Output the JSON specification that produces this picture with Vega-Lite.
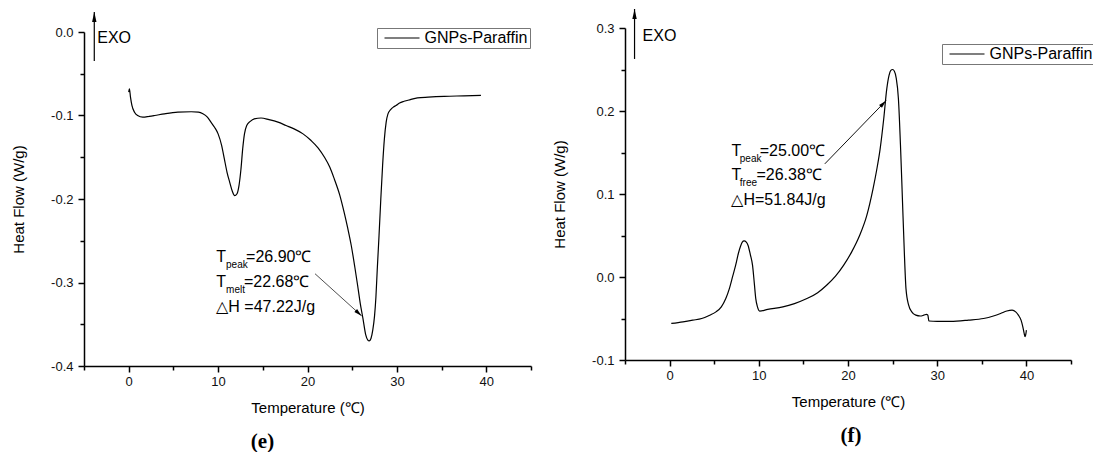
{
  "$schema": "https://vega.github.io/schema/vega-lite/v6.json",
  "background": "white",
  "padding": {"left": 11, "top": 8, "right": 0, "bottom": 0},
  "config": {
    "view": {"stroke": null},
    "font": "Liberation Sans",
    "axis": {
      "grid": false,
      "domainColor": "black",
      "domainWidth": 1.5,
      "tickColor": "black",
      "tickWidth": 1.5,
      "labelFont": "Liberation Sans",
      "labelFontSize": 13,
      "labelColor": "#111111",
      "titleFont": "Liberation Sans",
      "titleFontSize": 15,
      "titleFontWeight": "normal",
      "titleColor": "black",
      "labelOverlap": false,
      "labelFlush": false
    }
  },
  "datasets": {
    "melting": [
      {"T": 0.0, "HF": -0.072}, {"T": 0.08, "HF": -0.068}, {"T": 0.2, "HF": -0.078}, {"T": 0.36, "HF": -0.088},
      {"T": 0.65, "HF": -0.096}, {"T": 1.0, "HF": -0.1}, {"T": 1.58, "HF": -0.102}, {"T": 2.3, "HF": -0.101},
      {"T": 2.9, "HF": -0.1}, {"T": 4.0, "HF": -0.098}, {"T": 5.5, "HF": -0.096}, {"T": 7.0, "HF": -0.0955},
      {"T": 7.8, "HF": -0.096}, {"T": 8.3, "HF": -0.098}, {"T": 8.8, "HF": -0.102}, {"T": 9.2, "HF": -0.108},
      {"T": 9.6, "HF": -0.114}, {"T": 10.0, "HF": -0.122}, {"T": 10.4, "HF": -0.136}, {"T": 10.7, "HF": -0.152},
      {"T": 11.0, "HF": -0.168}, {"T": 11.3, "HF": -0.18}, {"T": 11.6, "HF": -0.191}, {"T": 11.85, "HF": -0.196},
      {"T": 12.1, "HF": -0.194}, {"T": 12.35, "HF": -0.183}, {"T": 12.55, "HF": -0.165}, {"T": 12.75, "HF": -0.14},
      {"T": 12.95, "HF": -0.122}, {"T": 13.2, "HF": -0.112}, {"T": 13.6, "HF": -0.107}, {"T": 14.05, "HF": -0.104},
      {"T": 14.8, "HF": -0.103}, {"T": 15.7, "HF": -0.105}, {"T": 16.7, "HF": -0.108}, {"T": 17.6, "HF": -0.112},
      {"T": 18.5, "HF": -0.116}, {"T": 19.5, "HF": -0.122}, {"T": 20.4, "HF": -0.13}, {"T": 21.2, "HF": -0.139},
      {"T": 21.9, "HF": -0.15}, {"T": 22.5, "HF": -0.162}, {"T": 23.0, "HF": -0.176}, {"T": 23.6, "HF": -0.195},
      {"T": 24.1, "HF": -0.216}, {"T": 24.5, "HF": -0.235}, {"T": 24.9, "HF": -0.256}, {"T": 25.3, "HF": -0.282},
      {"T": 25.6, "HF": -0.303}, {"T": 25.9, "HF": -0.325}, {"T": 26.2, "HF": -0.343}, {"T": 26.5, "HF": -0.362},
      {"T": 26.75, "HF": -0.369}, {"T": 26.9, "HF": -0.37}, {"T": 27.1, "HF": -0.367}, {"T": 27.3, "HF": -0.357},
      {"T": 27.5, "HF": -0.34}, {"T": 27.65, "HF": -0.318}, {"T": 27.8, "HF": -0.285}, {"T": 28.0, "HF": -0.244},
      {"T": 28.2, "HF": -0.2}, {"T": 28.4, "HF": -0.16}, {"T": 28.6, "HF": -0.128}, {"T": 28.8, "HF": -0.108},
      {"T": 29.0, "HF": -0.098}, {"T": 29.3, "HF": -0.093}, {"T": 29.6, "HF": -0.09}, {"T": 29.9, "HF": -0.088},
      {"T": 30.3, "HF": -0.085}, {"T": 30.8, "HF": -0.083}, {"T": 31.5, "HF": -0.081}, {"T": 32.3, "HF": -0.079},
      {"T": 33.5, "HF": -0.078}, {"T": 35.3, "HF": -0.077}, {"T": 37.5, "HF": -0.0765}, {"T": 39.4, "HF": -0.076}
    ],
    "meltingNotes": [
      {"T": 9.78, "HF": -0.2695, "text": "T", "role": "main"},
      {"T": 10.89, "HF": -0.2695, "text": "peak", "role": "sub"},
      {"T": 13.13, "HF": -0.2695, "text": "=26.90℃", "role": "main"},
      {"T": 9.78, "HF": -0.2994, "text": "T", "role": "main"},
      {"T": 10.89, "HF": -0.2994, "text": "melt", "role": "sub"},
      {"T": 12.9, "HF": -0.2994, "text": "=22.68℃", "role": "main"},
      {"T": 9.8, "HF": -0.3293, "text": "△H =47.22J/g", "role": "main"},
      {"T": -3.52, "HF": -0.0072, "text": "EXO", "role": "main"}
    ],
    "meltingArrows": [
      {"kind": "exo", "T": -3.85, "HF": 0.0239, "T2": -3.85, "HF2": -0.0347},
      {"kind": "pointer", "T": 26.06, "HF": -0.34, "T2": 20.84, "HF2": -0.2895}
    ],
    "freezing": [
      {"T": 0.19, "HF": -0.056}, {"T": 1.5, "HF": -0.054}, {"T": 2.6, "HF": -0.052}, {"T": 3.6, "HF": -0.05},
      {"T": 4.5, "HF": -0.046}, {"T": 5.2, "HF": -0.042}, {"T": 5.8, "HF": -0.036}, {"T": 6.3, "HF": -0.026},
      {"T": 6.7, "HF": -0.014}, {"T": 7.1, "HF": 0.002}, {"T": 7.4, "HF": 0.014}, {"T": 7.7, "HF": 0.028},
      {"T": 7.95, "HF": 0.037}, {"T": 8.15, "HF": 0.042}, {"T": 8.35, "HF": 0.0435}, {"T": 8.6, "HF": 0.042},
      {"T": 8.8, "HF": 0.038}, {"T": 9.05, "HF": 0.027}, {"T": 9.3, "HF": 0.014}, {"T": 9.5, "HF": -0.008},
      {"T": 9.66, "HF": -0.026}, {"T": 9.85, "HF": -0.036}, {"T": 10.1, "HF": -0.041}, {"T": 11.0, "HF": -0.039},
      {"T": 12.7, "HF": -0.036}, {"T": 14.0, "HF": -0.032}, {"T": 15.4, "HF": -0.026}, {"T": 16.6, "HF": -0.019},
      {"T": 17.6, "HF": -0.01}, {"T": 18.6, "HF": 0.001}, {"T": 19.5, "HF": 0.014}, {"T": 20.4, "HF": 0.03},
      {"T": 21.3, "HF": 0.05}, {"T": 22.1, "HF": 0.074}, {"T": 22.8, "HF": 0.106}, {"T": 23.2, "HF": 0.128},
      {"T": 23.6, "HF": 0.154}, {"T": 24.0, "HF": 0.19}, {"T": 24.35, "HF": 0.227}, {"T": 24.6, "HF": 0.243},
      {"T": 24.8, "HF": 0.249}, {"T": 25.0, "HF": 0.25}, {"T": 25.2, "HF": 0.248}, {"T": 25.4, "HF": 0.24},
      {"T": 25.65, "HF": 0.215}, {"T": 25.9, "HF": 0.154}, {"T": 26.1, "HF": 0.094}, {"T": 26.3, "HF": 0.034},
      {"T": 26.5, "HF": -0.014}, {"T": 26.8, "HF": -0.034}, {"T": 27.15, "HF": -0.042}, {"T": 27.6, "HF": -0.046},
      {"T": 28.1, "HF": -0.047}, {"T": 28.5, "HF": -0.046}, {"T": 28.8, "HF": -0.045}, {"T": 28.95, "HF": -0.046},
      {"T": 29.07, "HF": -0.053}, {"T": 30.0, "HF": -0.0535}, {"T": 31.5, "HF": -0.0535}, {"T": 33.5, "HF": -0.052},
      {"T": 35.2, "HF": -0.05}, {"T": 36.3, "HF": -0.047}, {"T": 37.1, "HF": -0.044}, {"T": 37.8, "HF": -0.041},
      {"T": 38.4, "HF": -0.04}, {"T": 38.8, "HF": -0.042}, {"T": 39.1, "HF": -0.046}, {"T": 39.4, "HF": -0.052},
      {"T": 39.6, "HF": -0.06}, {"T": 39.75, "HF": -0.068}, {"T": 39.85, "HF": -0.072}, {"T": 39.95, "HF": -0.068},
      {"T": 40.0, "HF": -0.064}
    ],
    "freezingNotes": [
      {"T": 6.93, "HF": 0.1523, "text": "T", "role": "main"},
      {"T": 7.87, "HF": 0.1523, "text": "peak", "role": "sub"},
      {"T": 10.11, "HF": 0.1523, "text": "=25.00℃", "role": "main"},
      {"T": 6.93, "HF": 0.1223, "text": "T", "role": "main"},
      {"T": 7.87, "HF": 0.1223, "text": "free", "role": "sub"},
      {"T": 9.74, "HF": 0.1223, "text": "=26.38℃", "role": "main"},
      {"T": 6.93, "HF": 0.0922, "text": "△H=51.84J/g", "role": "main"},
      {"T": -3.03, "HF": 0.2904, "text": "EXO", "role": "main"}
    ],
    "freezingArrows": [
      {"kind": "exo", "T": -3.93, "HF": 0.3229, "T2": -3.93, "HF2": 0.2627},
      {"kind": "pointer", "T": 24.27, "HF": 0.2125, "T2": 17.4, "HF2": 0.1363}
    ]
  },
  "bounds": "flush",
  "spacing": 94,
  "resolve": {"scale": {"color": "independent"}, "legend": {"color": "independent"}},
  "hconcat": [
    {
      "width": 447,
      "height": 338,
      "title": {"text": "(e)", "orient": "bottom", "anchor": "middle", "dx": -45, "offset": 16, "font": "Liberation Serif", "fontSize": 21, "fontWeight": "bold", "color": "black"},
      "encoding": {
        "x": {
          "field": "T", "type": "quantitative", "title": "Temperature (℃)",
          "scale": {"domain": [-5, 45], "nice": false, "zero": false},
          "axis": {
            "values": [-5, 0, 5, 10, 15, 20, 25, 30, 35, 40, 45],
            "labelExpr": "datum.value % 10 === 0 ? datum.label : ''",
            "tickSize": {"condition": {"test": "datum.value % 10 !== 0", "value": 4}, "value": 6},
            "labelPadding": 3,
            "titlePadding": 12
          }
        },
        "y": {
          "field": "HF", "type": "quantitative", "title": "Heat Flow (W/g)",
          "scale": {"domain": [-0.4, 0], "nice": false, "zero": false, "range": [338, 4]},
          "axis": {
            "values": [-0.4, -0.35, -0.3, -0.25, -0.2, -0.15, -0.1, -0.05, 0],
            "labelExpr": "abs(round(datum.value * 100)) % 10 === 0 ? replace(format(datum.value, '.1f'), '\u2212', '-') : ''",
            "tickSize": {"condition": {"test": "abs(round(datum.value * 100)) % 10 !== 0", "value": 4}, "value": 6},
            "labelPadding": 5,
            "titlePadding": 24
          }
        }
      },
      "layer": [
        {
          "data": {"name": "melting"},
          "mark": {"type": "line", "strokeWidth": 1.2, "interpolate": "monotone"},
          "encoding": {
            "color": {
              "datum": "GNPs-Paraffin",
              "scale": {"range": ["black"]},
              "legend": {
                "orient": "none", "legendX": 293, "legendY": 0, "title": null,
                "symbolType": "M-3.5,0H3.5", "symbolSize": 100, "symbolStrokeWidth": 1.2,
                "symbolOffset": 15, "labelOffset": 14.5,
                "labelFont": "Liberation Sans", "labelFontSize": 16, "labelColor": "black",
                "padding": 2, "strokeColor": "#777777"
              }
            }
          }
        },
        {
          "data": {"name": "meltingArrows"},
          "transform": [{"filter": "datum.kind === 'exo'"}],
          "layer": [
            {"mark": {"type": "rule", "strokeWidth": 1.2, "color": "black"}, "encoding": {"x2": {"field": "T2"}, "y2": {"field": "HF2"}}},
            {"mark": {"type": "point", "shape": "M0,0L0.22,1L-0.22,1Z", "filled": true, "color": "black", "opacity": 1, "size": 400, "angle": 0}}
          ]
        },
        {
          "data": {"name": "meltingArrows"},
          "transform": [{"filter": "datum.kind === 'pointer'"}],
          "layer": [
            {"mark": {"type": "rule", "strokeWidth": 0.8, "color": "#222222"}, "encoding": {"x2": {"field": "T2"}, "y2": {"field": "HF2"}}},
            {"mark": {"type": "point", "shape": "M0,0L0.25,1L-0.25,1Z", "filled": true, "color": "black", "opacity": 1, "size": 256, "angle": 132}}
          ]
        },
        {
          "data": {"name": "meltingNotes"},
          "transform": [{"filter": "datum.role === 'main'"}],
          "mark": {"type": "text", "align": "left", "baseline": "middle", "fontSize": 16, "font": "Liberation Sans", "color": "black"},
          "encoding": {"text": {"field": "text"}}
        },
        {
          "data": {"name": "meltingNotes"},
          "transform": [{"filter": "datum.role === 'sub'"}],
          "mark": {"type": "text", "align": "left", "baseline": "middle", "fontSize": 10, "dy": 8, "font": "Liberation Sans", "color": "black"},
          "encoding": {"text": {"field": "text"}}
        }
      ]
    },
    {
      "width": 446,
      "height": 332,
      "title": {"text": "(f)", "orient": "bottom", "anchor": "middle", "dx": 3, "offset": 16, "font": "Liberation Serif", "fontSize": 21, "fontWeight": "bold", "color": "black"},
      "encoding": {
        "x": {
          "field": "T", "type": "quantitative", "title": "Temperature (℃)",
          "scale": {"domain": [-5, 45], "nice": false, "zero": false},
          "axis": {
            "values": [-5, 0, 5, 10, 15, 20, 25, 30, 35, 40, 45],
            "labelExpr": "datum.value % 10 === 0 ? datum.label : ''",
            "tickSize": {"condition": {"test": "datum.value % 10 !== 0", "value": 4}, "value": 6},
            "labelPadding": 3,
            "titlePadding": 12
          }
        },
        "y": {
          "field": "HF", "type": "quantitative", "title": "Heat Flow (W/g)",
          "scale": {"domain": [-0.1, 0.3], "nice": false, "zero": false},
          "axis": {
            "values": [-0.1, -0.05, 0, 0.05, 0.1, 0.15, 0.2, 0.25, 0.3],
            "labelExpr": "abs(round(datum.value * 100)) % 10 === 0 ? replace(format(datum.value, '.1f'), '\u2212', '-') : ''",
            "tickSize": {"condition": {"test": "abs(round(datum.value * 100)) % 10 !== 0", "value": 4}, "value": 6},
            "labelPadding": 5,
            "titlePadding": 24
          }
        }
      },
      "layer": [
        {
          "data": {"name": "freezing"},
          "mark": {"type": "line", "strokeWidth": 1.2, "interpolate": "monotone"},
          "encoding": {
            "color": {
              "datum": "GNPs-Paraffin",
              "scale": {"range": ["black"]},
              "legend": {
                "orient": "none", "legendX": 317, "legendY": 16, "title": null,
                "symbolType": "M-3.5,0H3.5", "symbolSize": 100, "symbolStrokeWidth": 1.2,
                "symbolOffset": 15, "labelOffset": 14.5,
                "labelFont": "Liberation Sans", "labelFontSize": 16, "labelColor": "black",
                "padding": 2, "strokeColor": "#777777"
              }
            }
          }
        },
        {
          "data": {"name": "freezingArrows"},
          "transform": [{"filter": "datum.kind === 'exo'"}],
          "layer": [
            {"mark": {"type": "rule", "strokeWidth": 1.2, "color": "black"}, "encoding": {"x2": {"field": "T2"}, "y2": {"field": "HF2"}}},
            {"mark": {"type": "point", "shape": "M0,0L0.22,1L-0.22,1Z", "filled": true, "color": "black", "opacity": 1, "size": 400, "angle": 0}}
          ]
        },
        {
          "data": {"name": "freezingArrows"},
          "transform": [{"filter": "datum.kind === 'pointer'"}],
          "layer": [
            {"mark": {"type": "rule", "strokeWidth": 1, "color": "#111111"}, "encoding": {"x2": {"field": "T2"}, "y2": {"field": "HF2"}}},
            {"mark": {"type": "point", "shape": "M0,0L0.25,1L-0.25,1Z", "filled": true, "color": "black", "opacity": 1, "size": 256, "angle": 44}}
          ]
        },
        {
          "data": {"name": "freezingNotes"},
          "transform": [{"filter": "datum.role === 'main'"}],
          "mark": {"type": "text", "align": "left", "baseline": "middle", "fontSize": 16, "font": "Liberation Sans", "color": "black"},
          "encoding": {"text": {"field": "text"}}
        },
        {
          "data": {"name": "freezingNotes"},
          "transform": [{"filter": "datum.role === 'sub'"}],
          "mark": {"type": "text", "align": "left", "baseline": "middle", "fontSize": 10, "dy": 8, "font": "Liberation Sans", "color": "black"},
          "encoding": {"text": {"field": "text"}}
        }
      ]
    }
  ]
}
